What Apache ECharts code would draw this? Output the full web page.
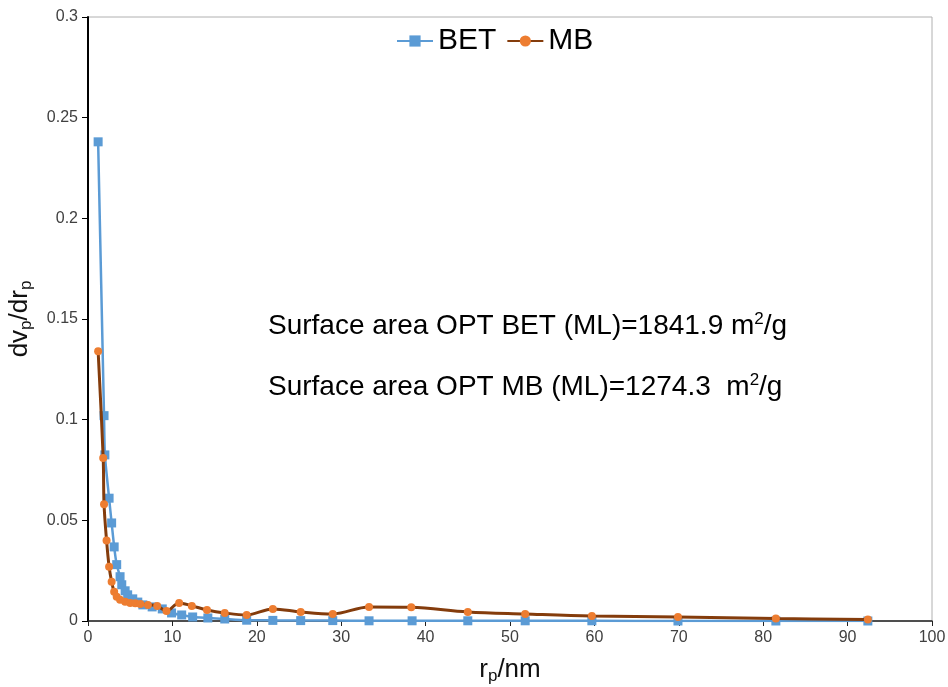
<!DOCTYPE html>
<html>
<head>
<meta charset="utf-8">
<script src="https://cdn.jsdelivr.net/npm/echarts@6/dist/echarts.min.js"></script>
<style>html,body{margin:0;padding:0;background:#fff}#c{width:948px;height:687px}</style>
</head>
<body>
<div id="c"></div>
<script>
// Data
const betX = [1.2, 1.9, 2.0, 2.5, 2.8, 3.1, 3.4, 3.8, 4.0, 4.4, 4.7, 5.3, 5.9, 6.5, 7.6, 8.8, 9.9, 11.1, 12.4, 14.2, 16.2, 18.8, 21.9, 25.2, 29.0, 33.3, 38.4, 45.0, 51.8, 59.7, 69.9, 81.5, 92.4];
const betY = [0.238, 0.102, 0.0825, 0.061, 0.0487, 0.0368, 0.028, 0.022, 0.018, 0.015, 0.013, 0.011, 0.0094, 0.008, 0.007, 0.006, 0.004, 0.003, 0.002, 0.0015, 0.001, 0.0004, 0.0003, 0.0002, 0.0002, 0.0001, 0.0001, 0.0001, 0.0001, 0.0001, 0, 0, 0];
const mbX = [1.2, 1.8, 1.9, 2.2, 2.5, 2.8, 3.1, 3.4, 3.8, 4.4, 5.0, 5.6, 6.2, 7.1, 8.2, 9.3, 10.8, 12.3, 14.1, 16.2, 18.8, 21.9, 25.2, 29.0, 33.3, 38.3, 45.0, 51.8, 59.7, 69.9, 81.5, 92.4];
const mbY = [0.134, 0.081, 0.058, 0.040, 0.027, 0.0195, 0.0145, 0.012, 0.0105, 0.0095, 0.009, 0.0088, 0.0084, 0.008, 0.0075, 0.005, 0.009, 0.0075, 0.0055, 0.004, 0.003, 0.006, 0.0045, 0.0035, 0.007, 0.0068, 0.0045, 0.0035, 0.0025, 0.002, 0.0012, 0.0007];
const seriesNames = ['BET', 'MB'];
const annotations = ['Surface area OPT BET (ML)=1841.9 m{sup|2}/g', 'Surface area OPT MB (ML)=1274.3  m{sup|2}/g'];

const FONT = 'Liberation Sans, Arial, sans-serif';
const chart = echarts.init(document.getElementById('c'));
const pair = (xs, ys) => xs.map((x, i) => [x, ys[i]]);
const nameRich = {
  n: { fontSize: 26, color: '#111', fontFamily: FONT },
  s: { fontSize: 17, color: '#111', fontFamily: FONT, padding: [14, 0, 0, 0] }
};

chart.setOption({
  animation: false,
  backgroundColor: '#fff',
  textStyle: { fontFamily: FONT },
  grid: { left: 88, right: 16, top: 17, bottom: 66, containLabel: false, outerBoundsMode: 'none', show: true, borderColor: '#b0b0b0', borderWidth: 1 },
  legend: {
    top: 21, left: 391, itemWidth: 36, itemHeight: 14, itemGap: 10,
    textStyle: { fontFamily: FONT, fontSize: 30, color: '#000' },
    data: seriesNames
  },
  xAxis: {
    type: 'value', min: 0, max: 100, interval: 10,
    axisLine: { show: true, lineStyle: { color: '#222', width: 1.5 } },
    axisTick: { show: true, inside: false, length: 5, lineStyle: { color: '#222' } },
    axisLabel: { fontFamily: FONT, fontSize: 16, color: '#404040', margin: 9 },
    splitLine: { show: false },
    name: '{n|r}{s|p}{n|/nm}', nameLocation: 'middle', nameGap: 33,
    nameTextStyle: { rich: nameRich }
  },
  yAxis: {
    type: 'value', min: 0, max: 0.3, interval: 0.05,
    axisLine: { show: true, lineStyle: { color: '#000', width: 2 } },
    axisTick: { show: true, inside: false, length: 6, lineStyle: { color: '#000' } },
    axisLabel: { fontFamily: FONT, fontSize: 16, color: '#404040', margin: 10 },
    splitLine: { show: false },
    name: '{n|dv}{s|p}{n|/dr}{s|p}', nameLocation: 'middle', nameGap: 53, nameRotate: 90,
    nameTextStyle: { rich: nameRich }
  },
  series: [
    {
      name: seriesNames[0], type: 'line', data: pair(betX, betY),
      symbol: 'rect', symbolSize: 9, smooth: 0.2,
      lineStyle: { color: '#5B9BD5', width: 2.5 },
      itemStyle: { color: '#5B9BD5' }, z: 2
    },
    {
      name: seriesNames[1], type: 'line', data: pair(mbX, mbY),
      symbol: 'circle', symbolSize: 8, smooth: 0.35,
      lineStyle: { color: '#843C0C', width: 3 },
      itemStyle: { color: '#ED7D31', borderWidth: 0 }, z: 3
    }
  ],
  graphic: annotations.map((t, i) => ({
    type: 'text', left: 268, top: 311 + i * 61,
    style: {
      text: t, font: '28px ' + FONT, fill: '#000',
      rich: { sup: { fontSize: 17, fontFamily: FONT, fill: '#000', padding: [0, 0, 13, 0] } }
    }
  }))
});
</script>
</body>
</html>
